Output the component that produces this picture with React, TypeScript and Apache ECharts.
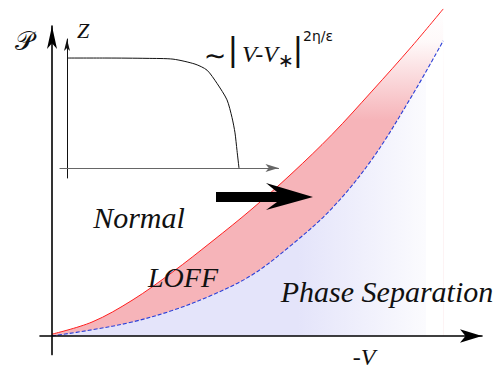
import React, { useEffect, useRef } from "react";
import * as echarts from "echarts";

// Main diagram: x = -V, y = P (arbitrary units)
const redBoundary: [number, number][] = [
  [0, 0.06], [1, 0.45], [2, 1.15], [3, 2.05], [4, 3.05], [5, 4.1],
  [6, 5.25], [7, 6.5], [8, 7.9], [9, 9.35], [9.78, 10.55],
];
const blueBoundary: [number, number][] = [
  [0, 0], [1, 0.2], [2, 0.45], [3, 0.82], [4, 1.32], [5, 1.97],
  [6, 2.95], [7, 4.12], [8, 5.7], [9, 7.75], [9.78, 9.52],
];
// Inset: Z vs V
const insetCurve: [number, number][] = [
  [0, 1], [2, 1], [4, 0.997], [5.3, 0.99], [6.4, 0.945], [7, 0.89],
  [7.5, 0.77], [8, 0.62], [8.25, 0.46], [8.4, 0.32], [8.5, 0.16], [8.6, 0],
];
const regionLabels = ["Normal", "LOFF", "Phase Separation"];
const axisLabels = { y: "\u{1D4AB}", x: "-V", insetY: "Z" };

const SERIF = "'Liberation Serif', 'DejaVu Serif', serif";

function txt(text: string, x: number, y: number, font: string, align = "center", fill = "#111") {
  return {
    type: "text",
    x,
    y,
    z: 20,
    style: {
      text,
      font,
      fill,
      align,
      verticalAlign: "middle",
      textAlign: align,
      textVerticalAlign: "middle",
    },
  };
}

export default function App() {
  const ref = useRef<HTMLDivElement>(null);
  useEffect(() => {
    if (!ref.current) return;
    const chart = echarts.init(ref.current, null, { renderer: "svg" });
    const hiddenAxisParts = {
      axisTick: { show: false },
      axisLabel: { show: false },
      splitLine: { show: false },
    };
    chart.setOption({
      animation: false,
      backgroundColor: "#ffffff",
      grid: [
        { left: 40, top: 26, width: 442, height: 328.6 },
        { left: 60, top: 39, width: 218.5, height: 139 },
      ],
      xAxis: [
        {
          type: "value", gridIndex: 0, min: -0.3, max: 10.75, z: 10,
          axisLine: { onZero: true, symbol: ["none", "arrow"], symbolSize: [10, 22], lineStyle: { color: "#000", width: 1.6 } },
          ...hiddenAxisParts,
        },
        {
          type: "value", gridIndex: 1, min: -0.35, max: 10.575, z: 10,
          axisLine: { onZero: true, symbol: ["none", "arrow"], symbolSize: [6, 13], lineStyle: { color: "#666", width: 1.2 } },
          ...hiddenAxisParts,
        },
      ],
      yAxis: [
        {
          type: "value", gridIndex: 0, min: -0.6, max: 10, z: 10,
          axisLine: { onZero: true, symbol: ["none", "arrow"], symbolSize: [7.5, 23], lineStyle: { color: "#000", width: 1.6 } },
          ...hiddenAxisParts,
        },
        {
          type: "value", gridIndex: 1, min: -0.09, max: 1.173, z: 10,
          axisLine: { onZero: true, symbol: ["none", "arrow"], symbolSize: [4.5, 12], lineStyle: { color: "#111", width: 1 } },
          ...hiddenAxisParts,
        },
      ],
      series: [
        {
          type: "line",
          xAxisIndex: 0, yAxisIndex: 0,
          data: redBoundary,
          smooth: 0.35,
          showSymbol: false,
          clip: false,
          z: 2,
          lineStyle: { color: "#ff2020", width: 1 },
          areaStyle: {
            color: new echarts.graphic.LinearGradient(0, 0, 0, 1, [
              { offset: 0, color: "rgba(246,180,185,0)" },
              { offset: 0.1, color: "rgba(246,180,185,0.08)" },
              { offset: 0.34, color: "rgba(246,180,185,1)" },
              { offset: 1, color: "rgba(246,180,185,1)" },
            ]),
            opacity: 1,
          },
        },
        {
          type: "line",
          xAxisIndex: 0, yAxisIndex: 0,
          data: blueBoundary,
          smooth: 0.35,
          showSymbol: false,
          clip: false,
          z: 3,
          lineStyle: { color: "#2a3fd8", width: 1.1, type: [4, 2] },
          areaStyle: {
            color: new echarts.graphic.LinearGradient(0, 0, 1, 0, [
              { offset: 0, color: "#e4e4fa" },
              { offset: 0.63, color: "#e4e4fa" },
              { offset: 0.955, color: "#fbfbfe" },
              { offset: 0.956, color: "#ffffff" },
              { offset: 1, color: "#ffffff" },
            ]),
            opacity: 1,
          },
        },
        {
          type: "line",
          xAxisIndex: 1, yAxisIndex: 1,
          data: insetCurve,
          smooth: 0.25,
          showSymbol: false,
          z: 12,
          lineStyle: { color: "#111", width: 1 },
        },
      ],
      graphic: [
        {
          type: "polygon",
          z: 20,
          shape: {
            points: [
              [216, 192], [277, 192], [266, 183], [313, 197],
              [266, 210], [277, 202], [216, 202],
            ],
          },
          style: { fill: "#000" },
        },
        txt(axisLabels.y, 24, 41, "26px 'DejaVu Sans', 'Noto Sans', serif"),
        txt(axisLabels.insetY, 83, 30, `italic 22px ${SERIF}`),
        txt(axisLabels.x, 364, 357, `italic 24px ${SERIF}`),
        txt(regionLabels[0], 139, 217, `italic 30px ${SERIF}`),
        txt(regionLabels[1], 183, 277, `italic 28px ${SERIF}`),
        txt(regionLabels[2], 387, 291, `italic 30px ${SERIF}`),
        txt("\u223C", 215, 55, "27px 'DejaVu Sans', sans-serif"),
        txt("|", 233, 49, "32px 'DejaVu Sans', sans-serif"),
        txt("V-V", 260, 54, `italic 24px ${SERIF}`),
        txt("\u2217", 286, 60, "19px 'DejaVu Sans', sans-serif"),
        txt("|", 298, 49, "32px 'DejaVu Sans', sans-serif"),
        txt("2\u03B7/\u03B5", 303, 36, "14px 'DejaVu Sans', sans-serif", "left"),
      ],
    });
    return () => chart.dispose();
  }, []);
  return <div ref={ref} style={{ width: 503, height: 370, position: "absolute", left: 0, top: 0 }} />;
}
